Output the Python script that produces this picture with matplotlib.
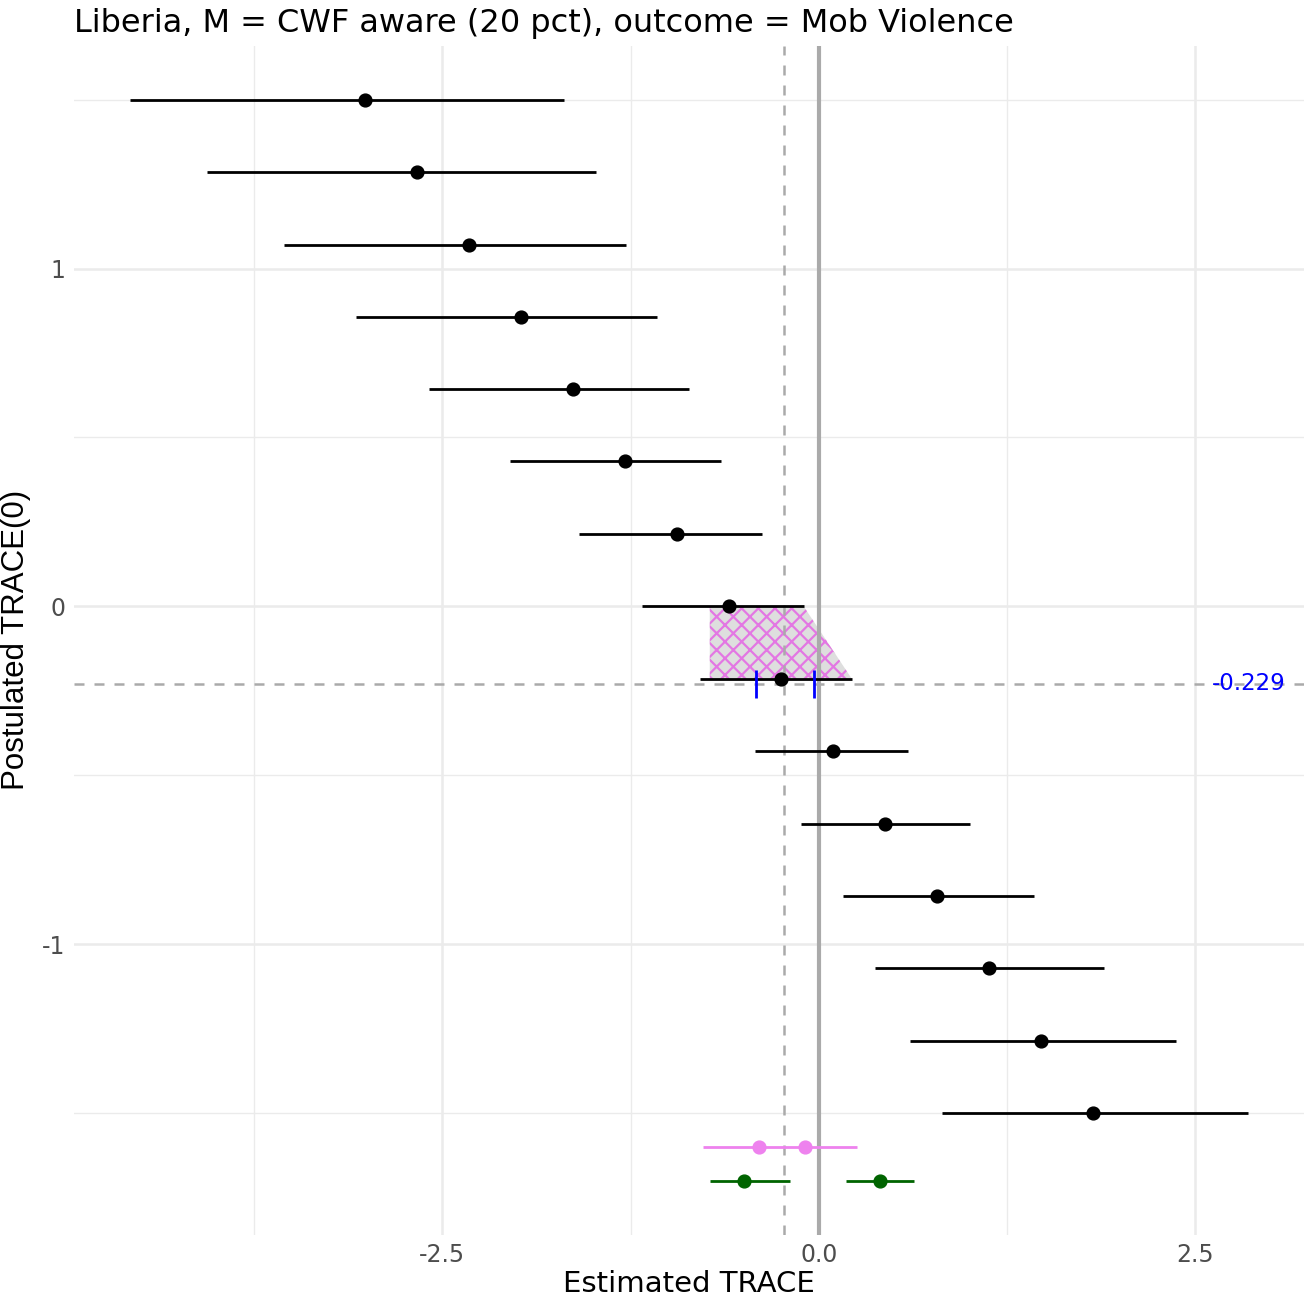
import matplotlib
matplotlib.use("Agg")
import matplotlib.pyplot as plt
from matplotlib.patches import Polygon

# ---- data ----
trace0 = [1.5, 1.286, 1.071, 0.857, 0.643, 0.429, 0.214, 0.0,
          -0.214, -0.429, -0.643, -0.857, -1.071, -1.286, -1.5]
est = [-3.015, -2.669, -2.324, -1.979, -1.633, -1.288, -0.943, -0.598,
       -0.252, 0.093, 0.438, 0.784, 1.129, 1.474, 1.819]
lo = [-4.575, -4.064, -3.552, -3.074, -2.590, -2.052, -1.594, -1.175,
      -0.790, -0.425, -0.120, 0.159, 0.372, 0.604, 0.817]
hi = [-1.693, -1.481, -1.282, -1.076, -0.863, -0.651, -0.378, -0.100,
      0.219, 0.591, 1.003, 1.428, 1.892, 2.371, 2.849]

cross = -0.229
cross_label = "-0.229"
blue_ticks = [-0.42, -0.035]

region_x = [-0.724, -0.100, 0.219, -0.724]
region_y = [0.0, 0.0, -0.214, -0.214]

pink_y = -1.6
pink_range = [-0.770, 0.252]
pink_pts = [-0.398, -0.093]

green_y = -1.7
green_segs = [[-0.724, -0.193], [0.179, 0.633]]
green_pts = [-0.495, 0.405]

xticks = [-2.5, 0.0, 2.5]
xtick_labels = ["-2.5", "0.0", "2.5"]
yticks = [-1, 0, 1]
ytick_labels = ["-1", "0", "1"]

title = "Liberia, M = CWF aware (20 pct), outcome = Mob Violence"
xlabel = "Estimated TRACE"
ylabel = "Postulated TRACE(0)"

# ---- plot ----
plt.rcParams['font.family'] = ['DejaVu Sans']
plt.rcParams['hatch.linewidth'] = 1.6

fig = plt.figure(figsize=(13.05, 13.0), dpi=100)
ax = fig.add_axes([0.0567, 0.05, 0.9423, 0.915])

ax.set_xlim(-4.946, 3.22)
ax.set_ylim(-1.86, 1.66)

# grid
for x in [-3.75, -1.25, 1.25]:
    ax.axvline(x, color='#EBEBEB', lw=1.0, zorder=0)
for x in xticks:
    ax.axvline(x, color='#EBEBEB', lw=1.8, zorder=0)
for y in [-1.5, -0.5, 0.5, 1.5]:
    ax.axhline(y, color='#EBEBEB', lw=1.0, zorder=0)
for y in yticks:
    ax.axhline(y, color='#EBEBEB', lw=1.8, zorder=0)

# shaded region
pts = list(zip(region_x, region_y))
ax.add_patch(Polygon(pts, closed=True, facecolor='#DEDEDE', edgecolor='none', zorder=1))
ax.add_patch(Polygon(pts, closed=True, facecolor='none', edgecolor='#E377E3',
                     linewidth=0, hatch='xx', zorder=1.1))

ax.axvline(0, color='#AAAAAA', lw=3, zorder=1.5)
ax.axvline(cross, color='#AAAAAA', lw=1.8, ls=(0, (4, 4)), zorder=1.5)
ax.axhline(cross, color='#AAAAAA', lw=1.8, ls=(0, (4, 4)), zorder=1.5)

# error bars
ax.hlines(trace0, lo, hi, color='black', lw=2.0, zorder=3)
ax.scatter(est, trace0, s=85, color='black', zorder=4)

# blue ticks
ax.vlines(blue_ticks, cross - 0.042, cross + 0.042, color='blue', lw=2.0, zorder=5)
ax.text(2.855, cross, cross_label, color='blue', ha='center', va='center',
        fontsize=16.5, zorder=6)

# pink row
ax.hlines([pink_y], pink_range[0], pink_range[1], color='violet', lw=2.0, zorder=3)
ax.scatter(pink_pts, [pink_y] * len(pink_pts), s=85, color='violet', zorder=4)

# green rows
for seg in green_segs:
    ax.hlines([green_y], seg[0], seg[1], color='darkgreen', lw=2.0, zorder=3)
ax.scatter(green_pts, [green_y] * len(green_pts), s=85, color='darkgreen', zorder=4)

ax.set_xticks(xticks)
ax.set_xticklabels(xtick_labels)
ax.set_yticks(yticks)
ax.set_yticklabels(ytick_labels)
ax.tick_params(length=0, labelsize=17, labelcolor='#4D4D4D', pad=6)
for s in ax.spines.values():
    s.set_visible(False)

ax.set_xlabel(xlabel, fontsize=21, labelpad=2)
ax.set_ylabel(ylabel, fontsize=22.5, labelpad=8, family=['Liberation Sans'])
ax.set_title(title, fontsize=23, loc='left', pad=10)

fig.savefig("out.png", dpi=100)
